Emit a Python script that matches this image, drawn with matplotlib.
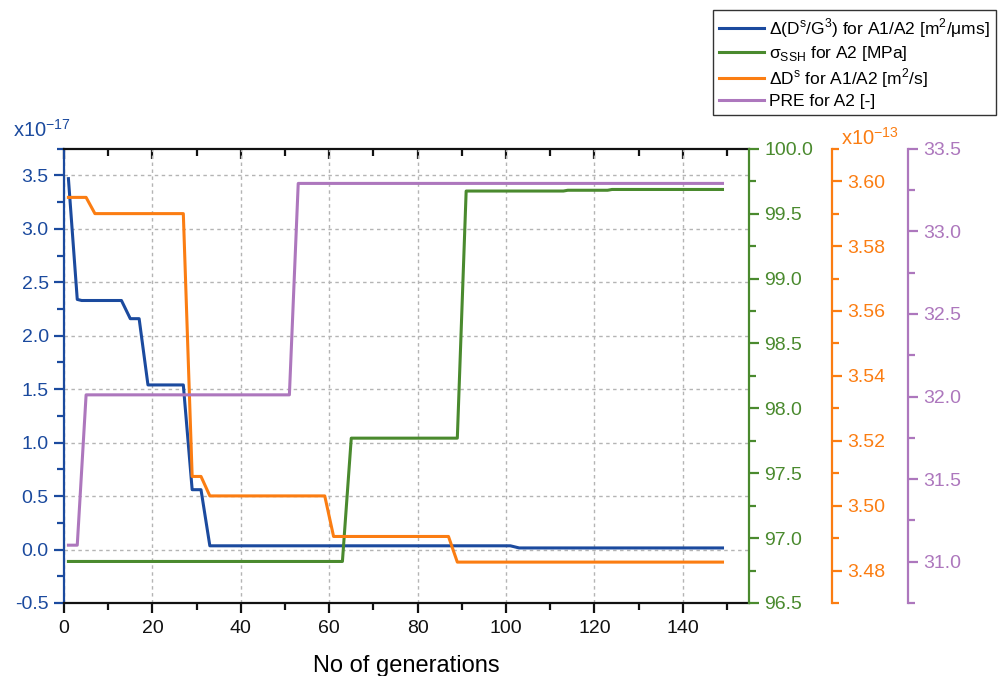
import matplotlib
matplotlib.use('Agg')
import matplotlib.pyplot as plt
from matplotlib.ticker import MultipleLocator, FormatStrFormatter

plt.rcParams['font.family'] = ['Liberation Sans', 'DejaVu Sans']
plt.rcParams['mathtext.fontset'] = 'custom'
plt.rcParams['mathtext.rm'] = 'Liberation Sans'

# data (vertices of each trace)
gen_blue = [1, 3, 4, 13, 15, 17, 19, 27, 29, 31, 33, 101, 103, 149]
dsg3_e17 = [3.47, 2.34, 2.33, 2.33, 2.16, 2.16, 1.54, 1.54, 0.56, 0.56, 0.035, 0.035, 0.015, 0.015]

gen_green = [1, 63, 65, 89, 91, 113, 114, 123, 124, 149]
sigma_ssh = [96.82, 96.82, 97.77, 97.77, 99.674, 99.674, 99.68, 99.68, 99.686, 99.686]

gen_orange = [1, 5, 7, 27, 29, 31, 33, 59, 61, 87, 89, 149]
ds_e13 = [3.595, 3.595, 3.590, 3.590, 3.509, 3.509, 3.503, 3.503, 3.4905, 3.4905, 3.4826, 3.4826]

gen_purple = [1, 3, 5, 51, 53, 149]
pre = [31.10, 31.10, 32.01, 32.01, 33.29, 33.29]

labels = [u'Δ(D$^\\mathregular{s}$/G$^\\mathregular{3}$) for A1/A2 [m$^\\mathregular{2}$/μms]',
          u'σ$_\\mathregular{SSH}$ for A2 [MPa]',
          u'ΔD$^\\mathregular{s}$ for A1/A2 [m$^\\mathregular{2}$/s]',
          u'PRE for A2 [-]']

c_blue = '#1b4a9e'
c_green = '#4a8a2e'
c_orange = '#fb7d12'
c_purple = '#ad77bd'

fig = plt.figure(figsize=(10, 6.76), dpi=100)
ax = fig.add_axes([0.064, 0.108, 0.685, 0.672])
ax_g = ax.twinx()
ax_o = ax.twinx()
ax_p = ax.twinx()

lw = 2.2
l_b, = ax.plot(gen_blue, dsg3_e17, color=c_blue, lw=lw, zorder=3)
l_o, = ax_o.plot(gen_orange, ds_e13, color=c_orange, lw=lw)
l_p, = ax_p.plot(gen_purple, pre, color=c_purple, lw=lw)
l_g, = ax_g.plot(gen_green, sigma_ssh, color=c_green, lw=lw)

ax.set_xlim(0, 155)
ax.set_ylim(-0.5, 3.75)
ax_g.set_ylim(96.5, 100.0)
ax_o.set_ylim(3.47, 3.61)
ax_p.set_ylim(30.75, 33.5)

ax.xaxis.set_major_locator(MultipleLocator(20))
ax.xaxis.set_minor_locator(MultipleLocator(10))
ax.yaxis.set_major_locator(MultipleLocator(0.5))
ax.yaxis.set_minor_locator(MultipleLocator(0.25))
ax.yaxis.set_major_formatter(FormatStrFormatter('%.1f'))
ax_g.yaxis.set_major_locator(MultipleLocator(0.5))
ax_g.yaxis.set_minor_locator(MultipleLocator(0.25))
ax_g.yaxis.set_major_formatter(FormatStrFormatter('%.1f'))
ax_o.yaxis.set_major_locator(MultipleLocator(0.02))
ax_o.yaxis.set_minor_locator(MultipleLocator(0.01))
ax_o.yaxis.set_major_formatter(FormatStrFormatter('%.2f'))
ax_p.yaxis.set_major_locator(MultipleLocator(0.5))
ax_p.yaxis.set_minor_locator(MultipleLocator(0.25))
ax_p.yaxis.set_major_formatter(FormatStrFormatter('%.1f'))

ax.grid(True, which='major', color='#b4b4b4', linestyle=(0, (2.5, 2.5)), lw=1.0)

spw = 1.6
fs = 14
for a in (ax, ax_g, ax_o, ax_p):
    for s in a.spines.values():
        s.set_visible(False)
ax.spines['left'].set_visible(True)
ax.spines['left'].set_color(c_blue)
ax.spines['bottom'].set_visible(True)
ax.spines['top'].set_visible(True)
for s in ('left', 'bottom', 'top'):
    ax.spines[s].set_linewidth(spw)
ax.spines['bottom'].set_color('#111111')
ax.spines['top'].set_color('#111111')

ax_g.spines['right'].set_visible(True)
ax_o.spines['right'].set_visible(True)
ax_p.spines['right'].set_visible(True)
ax_o.spines['right'].set_position(('axes', 1.121))
ax_p.spines['right'].set_position(('axes', 1.232))
for a, c in ((ax_g, c_green), (ax_o, c_orange), (ax_p, c_purple)):
    a.spines['right'].set_color(c)
    a.spines['right'].set_linewidth(spw)
    a.tick_params(axis='y', which='both', colors=c, width=spw, labelsize=fs, pad=4)
    a.tick_params(axis='y', which='major', length=7)
    a.tick_params(axis='y', which='minor', length=5)

ax.tick_params(axis='y', which='both', colors=c_blue, width=spw, labelsize=fs, pad=4)
ax.tick_params(axis='y', which='major', length=7)
ax.tick_params(axis='y', which='minor', length=5)
ax.tick_params(axis='x', which='both', colors='#111111', width=spw, labelsize=fs, pad=5)
ax.tick_params(axis='x', which='major', length=7)
ax.tick_params(axis='x', which='minor', length=5)

top = ax.secondary_xaxis('top')
top.xaxis.set_major_locator(MultipleLocator(20))
top.xaxis.set_minor_locator(MultipleLocator(10))
top.tick_params(axis='x', which='both', direction='in', labeltop=False, width=spw, color='#111111')
top.tick_params(axis='x', which='major', length=7)
top.tick_params(axis='x', which='minor', length=5)
top.spines['top'].set_visible(False)

ax.set_xlabel('No of generations', fontsize=17, labelpad=13)

# multiplier labels
ax.text(-0.074, 1.018, u'x10$^\\mathregular{-17}$', transform=ax.transAxes, color=c_blue,
        fontsize=14.5, ha='left', va='bottom')
ax.text(1.135, 1.0, u'x10$^\\mathregular{-13}$', transform=ax.transAxes, color=c_orange,
        fontsize=14.5, ha='left', va='bottom')

leg = fig.legend([l_b, l_g, l_o, l_p], labels, loc='upper right',
                 bbox_to_anchor=(0.996, 0.985), borderaxespad=0, fontsize=12.5,
                 frameon=True, fancybox=False, handlelength=2.6, handletextpad=0.3,
                 borderpad=0.35, labelspacing=0.22, framealpha=1)
leg.get_frame().set_edgecolor('#333333')
leg.get_frame().set_linewidth(1.0)

fig.savefig('out.png', dpi=100)
